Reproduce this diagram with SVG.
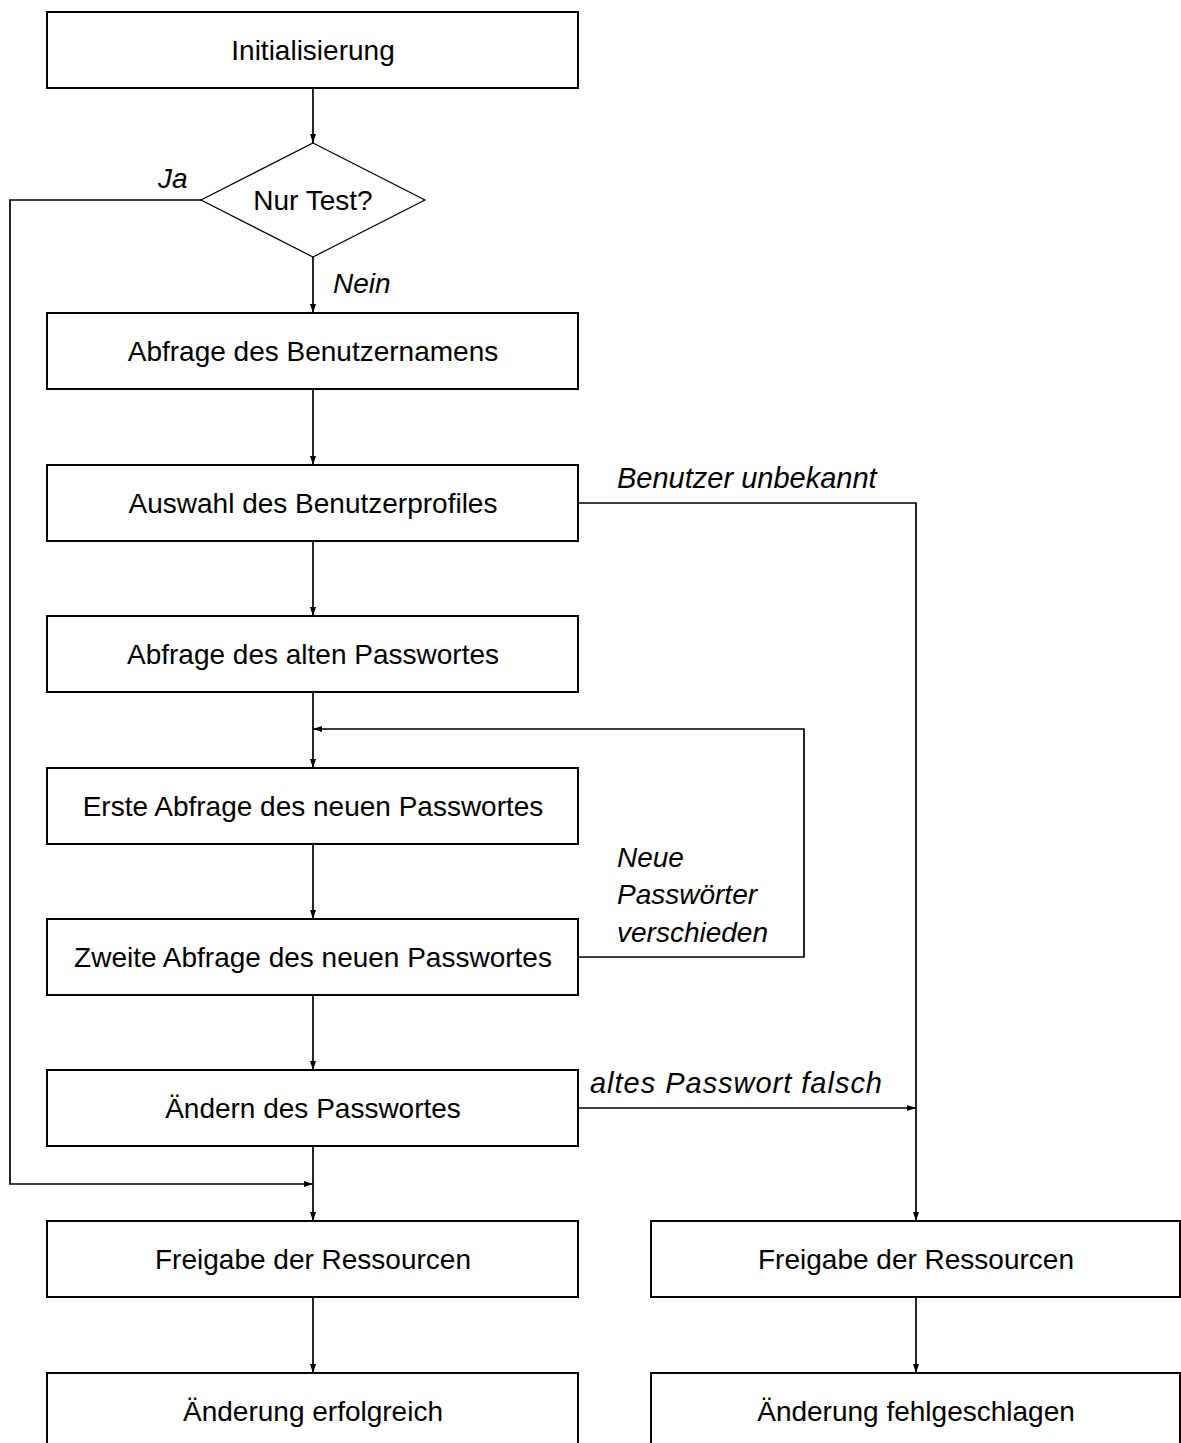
<svg xmlns="http://www.w3.org/2000/svg" width="1181" height="1443" viewBox="0 0 1181 1443">
  <style>
    .box { fill: #fff; stroke: #000; stroke-width: 2; }
    .dia { fill: #fff; stroke: #000; stroke-width: 1.2; }
    .lbl { font-family: "Liberation Sans", Arial, sans-serif; font-size: 28px; fill: #000; text-anchor: middle; }
    .edge { font-family: "Liberation Sans", Arial, sans-serif; font-size: 28px; font-style: italic; fill: #000; }
    .wide { font-size: 29px; }
    .con { fill: none; stroke: #000; stroke-width: 1.7; }
  </style>
  <defs>
    <marker id="arr" viewBox="0 0 9 6" refX="9" refY="3" markerWidth="9" markerHeight="6" markerUnits="userSpaceOnUse" orient="auto">
      <path d="M0,0 L9,3 L0,6 Z" fill="#000"/>
    </marker>
  </defs>
  <rect width="1181" height="1443" fill="#fff"/>

  <g id="connectors">
    <path class="con" d="M313,88 V143" marker-end="url(#arr)"/>
    <path class="con" d="M313,257 V313" marker-end="url(#arr)"/>
    <path class="con" d="M313,389 V465" marker-end="url(#arr)"/>
    <path class="con" d="M313,541 V616" marker-end="url(#arr)"/>
    <path class="con" d="M313,692 V768" marker-end="url(#arr)"/>
    <path class="con" d="M313,844 V919" marker-end="url(#arr)"/>
    <path class="con" d="M313,995 V1070" marker-end="url(#arr)"/>
    <path class="con" d="M313,1146 V1221" marker-end="url(#arr)"/>
    <path class="con" d="M313,1297 V1373" marker-end="url(#arr)"/>
    <path class="con" d="M916,1297 V1373" marker-end="url(#arr)"/>
    <!-- Ja branch: around the left edge to the release step -->
    <path class="con" d="M201,200 H10 V1184 H313" marker-end="url(#arr)"/>
    <!-- unknown user -->
    <path class="con" d="M578,503 H916 V1221" marker-end="url(#arr)"/>
    <!-- wrong old password -->
    <path class="con" d="M578,1108 H916" marker-end="url(#arr)"/>
    <!-- new passwords differ: loop back -->
    <path class="con" d="M578,957 H804 V729 H313" marker-end="url(#arr)"/>
    <text class="edge" x="158" y="188">Ja</text>
    <text class="edge" x="333" y="293">Nein</text>
    <text class="edge wide" x="617" y="488">Benutzer unbekannt</text>
    <text class="edge wide" x="590" y="1093" textLength="292" lengthAdjust="spacing">altes Passwort falsch</text>
    <text class="edge" x="617" y="867">Neue</text>
    <text class="edge" x="617" y="904">Passwörter</text>
    <text class="edge" x="617" y="942">verschieden</text>
  </g>

  <g id="init"><rect class="box" x="47" y="12" width="531" height="76"/><text class="lbl" x="313" y="60">Initialisierung</text></g>
  <g id="test"><path class="dia" d="M313,143 L425,200 L313,257 L201,200 Z"/><text class="lbl" x="313" y="210">Nur Test?</text></g>
  <g id="user"><rect class="box" x="47" y="313" width="531" height="76"/><text class="lbl" x="313" y="361">Abfrage des Benutzernamens</text></g>
  <g id="profile"><rect class="box" x="47" y="465" width="531" height="76"/><text class="lbl" x="313" y="513">Auswahl des Benutzerprofiles</text></g>
  <g id="oldpw"><rect class="box" x="47" y="616" width="531" height="76"/><text class="lbl" x="313" y="664">Abfrage des alten Passwortes</text></g>
  <g id="newpw1"><rect class="box" x="47" y="768" width="531" height="76"/><text class="lbl" x="313" y="816">Erste Abfrage des neuen Passwortes</text></g>
  <g id="newpw2"><rect class="box" x="47" y="919" width="531" height="76"/><text class="lbl" x="313" y="967">Zweite Abfrage des neuen Passwortes</text></g>
  <g id="change"><rect class="box" x="47" y="1070" width="531" height="76"/><text class="lbl" x="313" y="1118">Ändern des Passwortes</text></g>
  <g id="release-ok"><rect class="box" x="47" y="1221" width="531" height="76"/><text class="lbl" x="313" y="1269">Freigabe der Ressourcen</text></g>
  <g id="release-fail"><rect class="box" x="651" y="1221" width="529" height="76"/><text class="lbl" x="916" y="1269">Freigabe der Ressourcen</text></g>
  <g id="success"><rect class="box" x="47" y="1373" width="531" height="76"/><text class="lbl" x="313" y="1421">Änderung erfolgreich</text></g>
  <g id="failure"><rect class="box" x="651" y="1373" width="529" height="76"/><text class="lbl" x="916" y="1421">Änderung fehlgeschlagen</text></g>
</svg>
